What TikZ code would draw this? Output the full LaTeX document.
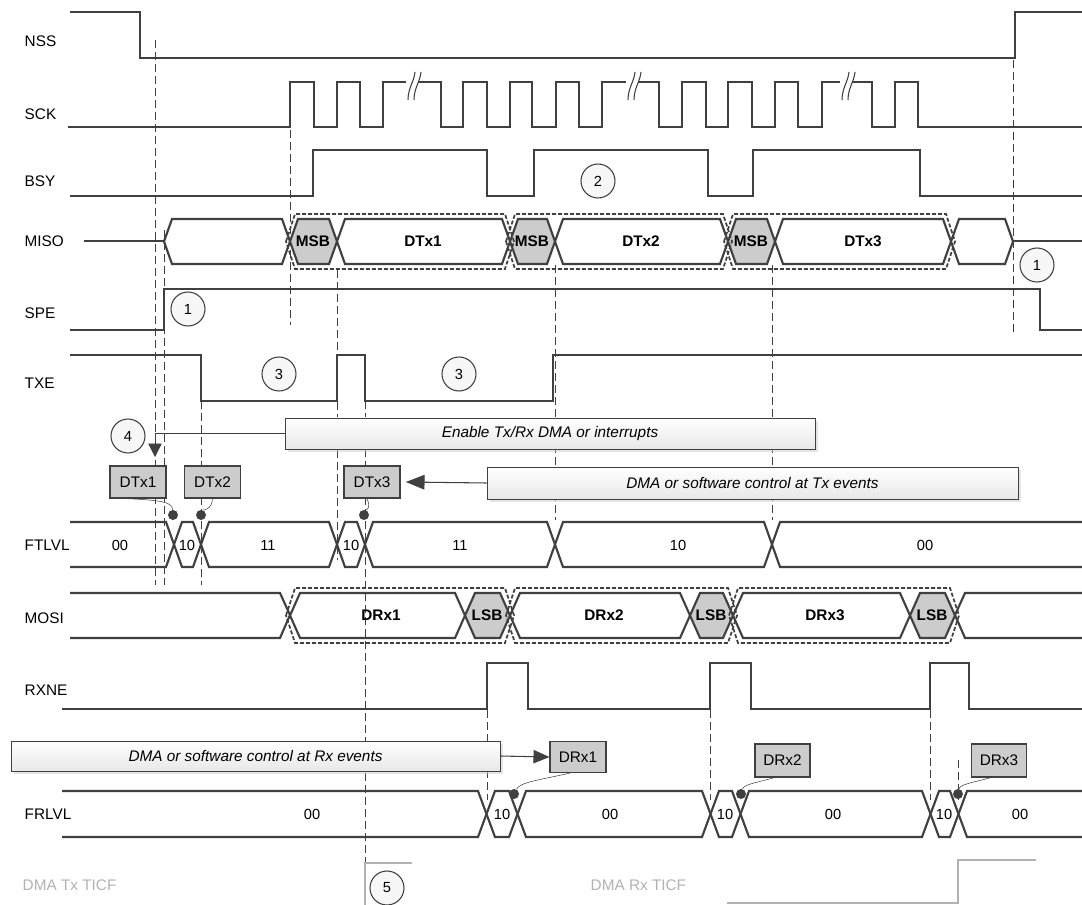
\documentclass[tikz,border=0pt]{standalone}
\usepackage{fontspec}
\setmainfont{Liberation Sans}
\usetikzlibrary{arrows.meta,shadows}
\def\px{0.75pt}
\definecolor{ln}{HTML}{404040}
\newcommand\hx[6][]{\draw[sig,#1] (#2,{(#4+#5)/2}) -- (#2+#6,#4) -- (#3-#6,#4) -- (#3,{(#4+#5)/2}) -- (#3-#6,#5) -- (#2+#6,#5) -- cycle;}
\newcommand\dhx[4]{\draw[grp] (#1-4,{(#3+#4)/2}) -- (#1+5,#3-5) -- (#2-5,#3-5) -- (#2+4,{(#3+#4)/2}) -- (#2-5,#4+5) -- (#1+5,#4+5) -- cycle;}
\begin{document}
\begin{tikzpicture}[x=0.75pt,y=-0.75pt,
 sig/.style={line width=1.6pt,color=ln,line join=miter},
 grp/.style={line width=1.3pt,color=ln,dash pattern=on 3pt off 1.5pt},
 vd/.style={thin,color=ln,dash pattern=on 6pt off 3pt},
 lab/.style={anchor=west,font=\fontsize{11.5}{13}\selectfont},
 val/.style={font=\fontsize{11}{13}\selectfont},
 bval/.style={font=\bfseries\fontsize{11.5}{13}\selectfont},
 num/.style={circle,draw=ln,thick,fill=gray!6,minimum size=34*\px,inner sep=0pt,font=\fontsize{11}{13}\selectfont},
 reg/.style={draw=ln,thick,fill=gray!40,minimum width=56*\px,minimum height=32*\px,inner sep=0pt,font=\fontsize{11.5}{13}\selectfont},
 info/.style={draw=ln,top color=white,bottom color=gray!18,drop shadow={shadow xshift=2pt,shadow yshift=-2pt,fill=gray!40},inner sep=0pt,font=\itshape\fontsize{11.5}{13}\selectfont},
 dot/.style={circle,fill=ln,inner sep=0pt,minimum size=10*\px}]
\useasboundingbox (0,0) rectangle (1082,905);
% labels
\node[lab] at (20,41) {NSS};
\node[lab] at (20,114) {SCK};
\node[lab] at (20,181) {BSY};
\node[lab] at (20,241) {MISO};
\node[lab] at (20,313) {SPE};
\node[lab] at (20,383) {TXE};
\node[lab] at (20,545) {FTLVL};
\node[lab] at (20,618) {MOSI};
\node[lab] at (20,690) {RXNE};
\node[lab] at (20,814) {FRLVL};
\node[lab,text=gray!60] at (18,885) {DMA Tx TICF};
\node[anchor=west,font=\fontsize{11.5}{13}\selectfont,text=gray!60] at (586,885) {DMA Rx TICF};
% vertical dashed lines
\draw[vd] (155,40) -- (155,585);
\draw[vd] (164,230) -- (164,585);
\draw[vd] (290,130) -- (290,325);
\draw[vd] (337,270) -- (337,560);
\draw[vd] (201,401) -- (201,585);
\draw[vd] (365,401) -- (365,905);
\draw[vd] (555,265) -- (555,520);
\draw[vd] (772,265) -- (772,520);
\draw[vd] (1013,60) -- (1013,335);
\draw[vd] (487,710) -- (487,800);
\draw[vd] (710,710) -- (710,800);
\draw[vd] (930,710) -- (930,800);
\draw[vd] (958,760) -- (958,800);
% NSS
\draw[sig] (70,12) -- (140,12) -- (140,58) -- (1015,58) -- (1015,12) -- (1082,12);
% SCK
\draw[sig] (68,127) -- (290,127) -- (290,82) -- (314,82) -- (314,127) -- (337,127) -- (337,82) -- (360,82) -- (360,127) -- (383,127) -- (383,82) -- (441,82) -- (441,127) -- (463,127) -- (463,82) -- (487,82) -- (487,127) -- (510,127) -- (510,82) -- (532,82) -- (532,127) -- (556,127) -- (556,82) -- (579,82) -- (579,127) -- (602,127) -- (602,82) -- (659,82) -- (659,127) -- (682,127) -- (682,82) -- (706,82) -- (706,127) -- (728,127) -- (728,82) -- (752,82) -- (752,127) -- (775,127) -- (775,82) -- (798,82) -- (798,127) -- (822,127) -- (822,82) -- (872,82) -- (872,127) -- (895,127) -- (895,82) -- (918,82) -- (918,127) -- (1082,127);
\foreach \bx in {410,630,844}{
 \fill[white] (\bx-4,76) rectangle (\bx+8,90);
 \draw[ln,thick] (\bx-2,100) .. controls (\bx-2,88) and (\bx+4,82) .. (\bx+5,72);
 \draw[ln,thick] (\bx+4,100) .. controls (\bx+4,88) and (\bx+10,82) .. (\bx+11,72);}
% BSY
\draw[sig] (70,196) -- (313,196) -- (313,150) -- (487,150) -- (487,196) -- (534,196) -- (534,150) -- (708,150) -- (708,196) -- (753,196) -- (753,150) -- (920,150) -- (920,196) -- (1082,196);
\node[num] at (598,181) {2};
% MISO
\draw[sig] (84,241) -- (164,241);
\hx{164}{290}{219}{264}{8}
\hx[fill=gray!40]{290}{337}{219}{264}{8}
\hx{337}{510}{219}{264}{8}
\hx[fill=gray!40]{510}{555}{219}{264}{8}
\hx{555}{728}{219}{264}{8}
\hx[fill=gray!40]{728}{775}{219}{264}{8}
\hx{775}{951}{219}{264}{8}
\hx{951}{1013}{219}{264}{8}
\draw[sig] (1013,241) -- (1082,241);
\dhx{290}{510}{219}{264}
\dhx{510}{728}{219}{264}
\dhx{728}{951}{219}{264}
\node[bval] at (313,241) {MSB};
\node[bval] at (423,241) {DTx1};
\node[bval] at (532,241) {MSB};
\node[bval] at (641,241) {DTx2};
\node[bval] at (751,241) {MSB};
\node[bval] at (863,241) {DTx3};
\node[num] at (1037,265) {1};
% SPE
\draw[sig] (70,330) -- (164,330) -- (164,289) -- (1040,289) -- (1040,330) -- (1082,330);
\node[num] at (188,309) {1};
% TXE
\draw[sig] (70,355) -- (201,355) -- (201,401) -- (337,401) -- (337,355) -- (365,355) -- (365,401) -- (553,401) -- (553,355) -- (1082,355);
\node[num] at (279,374) {3};
\node[num] at (459,374) {3};
% info boxes
\node[info,minimum width=530*\px,minimum height=31*\px] (en) at (550,433.5) {Enable Tx/Rx DMA or interrupts};
\node[num] at (128,436) {4};
\coordinate (a4) at (155,457);
\draw[ln,-{Triangle[length=10pt,width=10pt]}] (en.west) -| (a4);
\node[reg] (t1) at (138,482) {DTx1};
\node[reg] (t2) at (212.5,482) {DTx2};
\node[reg] (t3) at (372,482) {DTx3};
\node[info,minimum width=531*\px,minimum height=32*\px] (tx) at (752.5,483) {DMA or software control at Tx events};
\draw[ln,thick,-{Triangle[length=14pt,width=11pt]}] (tx.west) -- ([xshift=4pt]t3.east);
% FTLVL
\def\ft{522}\def\fb{567}
\draw[sig] (70,\ft) -- (166,\ft) -- (182,\fb) -- (193,\fb) -- (209,\ft) -- (329,\ft) -- (345,\fb) -- (357,\fb) -- (373,\ft) -- (547,\ft) -- (563,\fb) -- (764,\fb) -- (780,\ft) -- (1082,\ft);
\draw[sig] (70,\fb) -- (166,\fb) -- (182,\ft) -- (193,\ft) -- (209,\fb) -- (329,\fb) -- (345,\ft) -- (357,\ft) -- (373,\fb) -- (547,\fb) -- (563,\ft) -- (764,\ft) -- (780,\fb) -- (1082,\fb);
\node[val] at (120,545) {00};
\node[val] at (187,545) {10};
\node[val] at (268,545) {11};
\node[val] at (351,545) {10};
\node[val] at (460,545) {11};
\node[val] at (678,545) {10};
\node[val] at (925,545) {00};
\node[dot] (d1) at (173,515) {};
\node[dot] (d2) at (201,515) {};
\node[dot] (d3) at (364,515) {};
\draw[ln] ([xshift=-12pt]t1.south) .. controls (166,500) and (172,503) .. (d1);
\draw[ln] ([xshift=0pt]t2.south) .. controls (212,510) and (203,510) .. (d2);
\draw[ln] ([xshift=-4pt]t3.south) .. controls (372,508) and (366,510) .. (d3);
% MOSI
\def\mt{593}\def\mb{638}
\draw[sig] (70,\mt) -- (280,\mt) -- (290,615) -- (280,\mb) -- (70,\mb);
\hx{290}{465}{\mt}{\mb}{10}
\hx[fill=gray!40]{465}{510}{\mt}{\mb}{10}
\hx{510}{690}{\mt}{\mb}{10}
\hx[fill=gray!40]{690}{733}{\mt}{\mb}{10}
\hx{733}{910}{\mt}{\mb}{10}
\hx[fill=gray!40]{910}{955}{\mt}{\mb}{10}
\draw[sig] (1082,\mt) -- (965,\mt) -- (955,615) -- (965,\mb) -- (1082,\mb);
\dhx{290}{510}{\mt}{\mb}
\dhx{510}{733}{\mt}{\mb}
\dhx{733}{955}{\mt}{\mb}
\node[bval] at (381,615) {DRx1};
\node[bval] at (487,615) {LSB};
\node[bval] at (604,615) {DRx2};
\node[bval] at (711,615) {LSB};
\node[bval] at (825,615) {DRx3};
\node[bval] at (932,615) {LSB};
% RXNE
\draw[sig] (62,709) -- (487,709) -- (487,663) -- (528,663) -- (528,709) -- (710,709) -- (710,663) -- (751,663) -- (751,709) -- (930,709) -- (930,663) -- (969,663) -- (969,709) -- (1082,709);
% Rx info
\node[info,minimum width=489*\px,minimum height=30*\px] (rx) at (255.5,756) {DMA or software control at Rx events};
\node[reg,minimum height=31*\px] (r1) at (578,757) {DRx1};
\node[reg,minimum width=55*\px,minimum height=33*\px] (r2) at (782.5,760.5) {DRx2};
\node[reg,minimum width=55*\px,minimum height=33*\px] (r3) at (999,760.5) {DRx3};
\draw[ln,thick,-{Triangle[length=12pt,width=10pt]}] (rx.east) -- (r1.west);
% FRLVL
\def\rt{791}\def\rb{837}
\draw[sig] (62,\rt) -- (478,\rt) -- (495,\rb) -- (509,\rb) -- (526,\rt) -- (702,\rt) -- (719,\rb) -- (732,\rb) -- (749,\rt) -- (922,\rt) -- (939,\rb) -- (950,\rb) -- (967,\rt) -- (1082,\rt);
\draw[sig] (62,\rb) -- (478,\rb) -- (495,\rt) -- (509,\rt) -- (526,\rb) -- (702,\rb) -- (719,\rt) -- (732,\rt) -- (749,\rb) -- (922,\rb) -- (939,\rt) -- (950,\rt) -- (967,\rb) -- (1082,\rb);
\node[val] at (312,814) {00};
\node[val] at (502,814) {10};
\node[val] at (610,814) {00};
\node[val] at (725,814) {10};
\node[val] at (833,814) {00};
\node[val] at (944,814) {10};
\node[val] at (1020,814) {00};
\node[dot] (e1) at (514,794) {};
\node[dot] (e2) at (741,794) {};
\node[dot] (e3) at (958,794) {};
\draw[ln] ([xshift=-6pt]r1.south) .. controls (540,780) and (520,782) .. (e1);
\draw[ln] ([xshift=-6pt]r2.south) .. controls (760,782) and (744,784) .. (e2);
\draw[ln] ([xshift=-6pt]r3.south) .. controls (976,782) and (960,784) .. (e3);
% DMA TICF
\draw[gray!60,line width=1.5pt] (365,905) -- (365,863) -- (412,863);
\draw[gray!60,line width=1.5pt] (727,903) -- (958,903) -- (958,860) -- (1036,860);
\node[num] at (387,888) {5};
\end{tikzpicture}
\end{document}
